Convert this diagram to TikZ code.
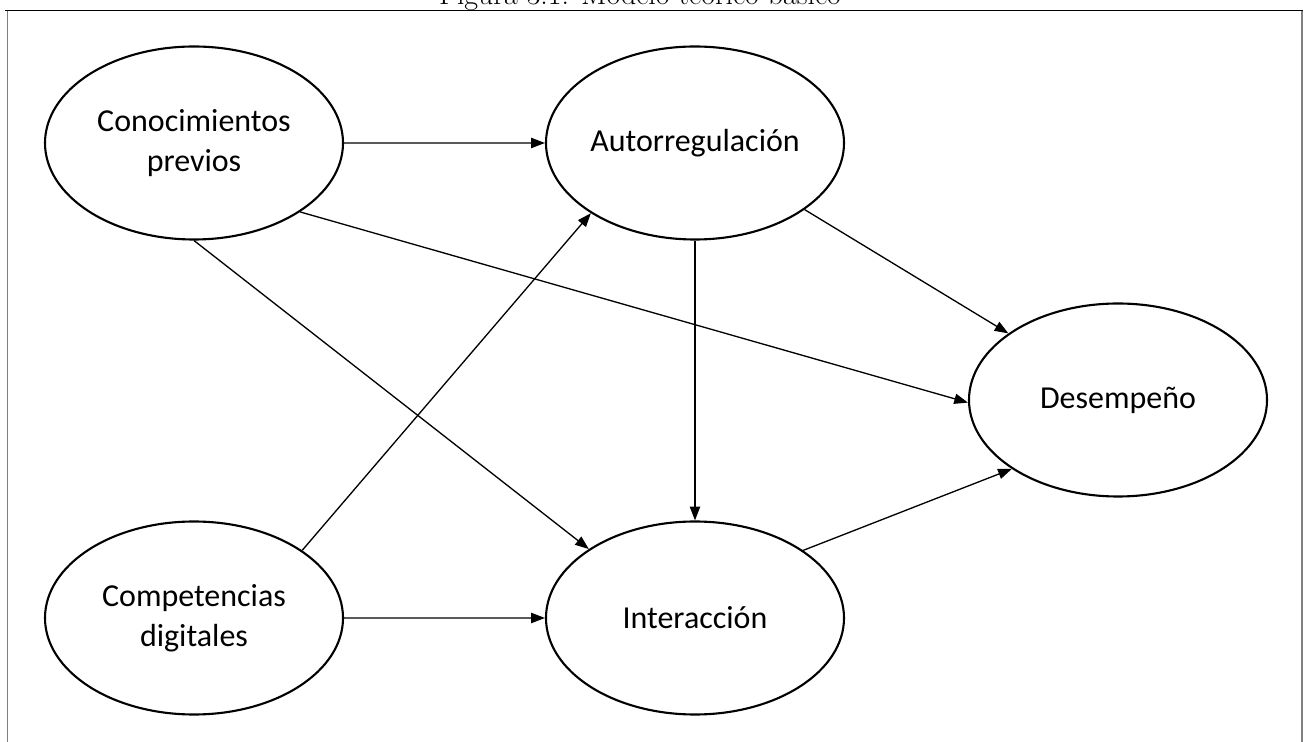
\documentclass[tikz,border=0pt]{standalone}
\usepackage{fontspec}
\setsansfont{Carlito}
\usetikzlibrary{shapes.geometric,arrows.meta}

\begin{document}
\begin{tikzpicture}[scale=0.2]
\tikzstyle{every node}+=[inner sep=0pt]
\tikzstyle{factor}=[draw=black, ellipse, line width=1.2pt, minimum width=5.96cm, minimum height=3.86cm, align=center, font=\sffamily\fontsize{18.2}{22.5}\selectfont]
\tikzstyle{link}=[black, line width=0.75pt, -{Triangle[length=7.8pt,width=5.8pt]}]
\useasboundingbox (0,0) rectangle (131.2,-74.2);
\draw (64,-0.5) node [anchor=base] (title) {\fontsize{17}{20}\selectfont Figura 3.1: Modelo te\'orico b\'asico};
\draw [gray, line width=1.1pt] (0.75,-1.05) -- (0.75,-74.2);
\draw [gray, line width=1.1pt] (130.2,-1.05) -- (130.2,-74.2);
\draw [black, line width=0.85pt] (0.5,-1.05) -- (130.3,-1.05);
\draw (19.4,-14.3) node [factor] (conoc) {Conocimientos\\previos};
\draw (69.5,-14.3) node [factor] (autor) {Autorregulación};
\draw (111.8,-40) node [factor] (desem) {Desempeño};
\draw (19.4,-61.8) node [factor] (compet) {Competencias\\digitales};
\draw (69.5,-61.8) node [factor] (inter) {Interacción};
\draw [link] (conoc) -- (autor);
\draw [link] (conoc.-33) -- (desem.181);
\draw [link] (conoc.south) -- (inter.147);
\draw [link] (autor) -- (desem);
\draw [link] (autor) -- (inter);
\draw [link] (compet.32) -- (autor.214);
\draw [link] (compet) -- (inter);
\draw [link] (inter.32) -- (desem.213);
\end{tikzpicture}
\end{document}
